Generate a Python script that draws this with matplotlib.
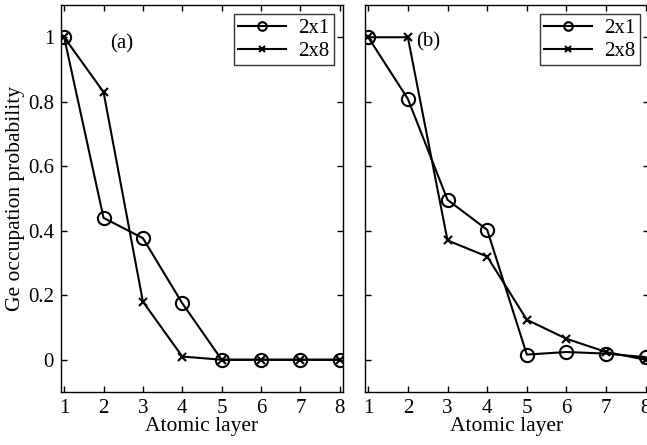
import numpy as np
import matplotlib
matplotlib.use("Agg")
import matplotlib.pyplot as plt

plt.rcParams['font.family'] = ['Liberation Serif', 'DejaVu Serif']

layers = [1, 2, 3, 4, 5, 6, 7, 8]

# panel (a)
a_2x1 = [1.0, 0.44, 0.377, 0.175, 0.0, 0.0, 0.0, 0.0]
a_2x8 = [1.0, 0.83, 0.18, 0.01, 0.0, 0.0, 0.0, 0.0]

# panel (b)
b_2x1 = [1.0, 0.809, 0.496, 0.403, 0.016, 0.024, 0.019, 0.008]
b_2x8 = [1.0, 1.0, 0.37, 0.32, 0.124, 0.065, 0.024, 0.0]

yticks = [0, 0.2, 0.4, 0.6, 0.8, 1]
ytick_labels = ["0", "0.2", "0.4", "0.6", "0.8", "1"]

W, H = 647, 445
fig = plt.figure(figsize=(W / 100, H / 100), dpi=100)

ax_a = fig.add_axes([61 / W, 1 - 392 / H, (343 - 61) / W, (392 - 5) / H])
ax_b = fig.add_axes([365 / W, 1 - 392 / H, (649 - 365) / W, (392 - 5) / H])

for ax, s1, s8, tag, tagxy in [(ax_a, a_2x1, a_2x8, "(a)", (2.17, 0.98)),
                               (ax_b, b_2x1, b_2x8, "(b)", (2.22, 0.985))]:
    ax.plot(layers, s1, color='black', lw=1.5, marker='o', ms=9.5,
            mfc='none', mew=1.5, label='2x1')
    ax.plot(layers, s8, color='black', lw=1.5, marker='x', ms=6,
            mew=1.5, label='2x8')
    ax.set_xlim(0.92, 8.08)
    ax.set_ylim(-0.1, 1.1)
    ax.set_xticks(layers)
    ax.set_yticks(yticks)
    ax.tick_params(direction='in', top=True, right=True, length=4,
                   labelsize=15, width=1, pad=5)
    ax.tick_params(axis='x', pad=5)
    for sp in ax.spines.values():
        sp.set_linewidth(1.0)
    ax.set_xlabel("Atomic layer", fontsize=15.5, labelpad=-1)
    ax.text(tagxy[0], tagxy[1], tag, fontsize=15, va='center', ha='left')
    leg = ax.legend(loc='upper right', fontsize=15, frameon=True, fancybox=False,
                    edgecolor='black', borderpad=0.2, handlelength=2.3,
                    handletextpad=0.6, labelspacing=0.15, borderaxespad=0.45,
                    markerscale=0.65)
    leg.get_frame().set_linewidth(1.0)

ax_a.set_yticklabels(ytick_labels)
ax_a.set_ylabel("Ge occupation probability", fontsize=15.5, labelpad=2)
ax_b.set_yticklabels([])

fig.savefig("out.png", dpi=100)
